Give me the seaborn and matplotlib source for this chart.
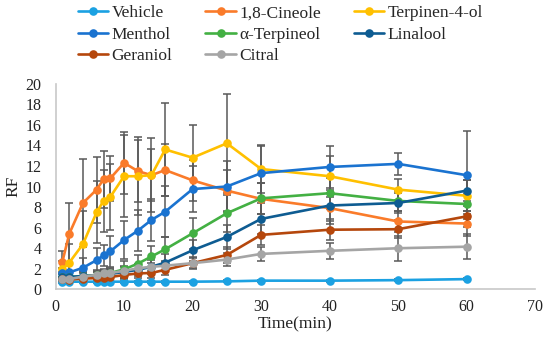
import numpy as np
import pandas as pd
import seaborn as sns
import matplotlib
matplotlib.use("Agg")
import matplotlib.pyplot as plt

time = [1, 2, 4, 6, 7, 8, 10, 12, 14, 16, 20, 25, 30, 40, 50, 60]

series_names = ["Vehicle", "1,8-Cineole", "Terpinen-4-ol", "Menthol",
                "\u03b1-Terpineol", "Linalool", "Geraniol", "Citral"]

vehicle = [0.75, 0.75, 0.75, 0.75, 0.75, 0.75, 0.75, 0.75, 0.75, 0.75, 0.75, 0.78, 0.85, 0.85, 0.9, 1.0]
cineole = [2.7, 5.4, 8.4, 9.7, 10.7, 10.8, 12.3, 11.5, 11.1, 11.6, 10.6, 9.6, 8.8, 7.9, 6.6, 6.4]
terpinen = [1.95, 2.6, 4.4, 7.5, 8.6, 9.0, 11.0, 11.0, 11.1, 13.6, 12.8, 14.2, 11.7, 11.0, 9.7, 9.1]
menthol = [1.55, 1.65, 2.1, 2.85, 3.3, 3.7, 4.8, 5.7, 6.75, 7.55, 9.75, 10.0, 11.3, 11.9, 12.2, 11.1]
terpineol = [1.2, 1.2, 1.3, 1.4, 1.5, 1.6, 1.95, 2.5, 3.2, 3.9, 5.45, 7.4, 8.85, 9.35, 8.6, 8.3]
linalool = [1.2, 1.2, 1.3, 1.35, 1.4, 1.5, 1.7, 1.9, 2.2, 2.6, 3.8, 5.1, 6.85, 8.15, 8.4, 9.6]
geraniol = [1.0, 0.95, 1.05, 1.1, 1.15, 1.2, 1.4, 1.55, 1.6, 1.9, 2.55, 3.35, 5.3, 5.8, 5.85, 7.1]
citral = [1.0, 1.0, 1.25, 1.4, 1.55, 1.6, 1.8, 2.05, 2.2, 2.3, 2.55, 2.9, 3.45, 3.75, 4.0, 4.15]

vehicle_err = [0.1] * 16
cineole_err = [1.0, 3.0, 4.3, 3.2, 2.8, 2.2, 3.0, 3.0, 2.5, 2.5, 2.0, 2.0, 1.5, 1.5, 1.0, 1.2]
terpinen_err = [0.8, 1.8, 3.2, 3.0, 3.0, 3.2, 4.0, 3.8, 3.6, 4.5, 3.2, 4.8, 2.3, 2.0, 1.0, 1.5]
menthol_err = [0.5, 0.8, 1.0, 1.2, 1.0, 1.5, 1.8, 2.0, 2.0, 2.5, 2.2, 2.5, 2.6, 2.0, 1.1, 4.3]
terpineol_err = [0.3, 0.3, 0.5, 0.5, 0.5, 0.5, 0.8, 0.8, 1.0, 1.2, 1.5, 1.8, 1.5, 1.5, 1.0, 1.0]
linalool_err = [0.3, 0.3, 0.4, 0.4, 0.4, 0.5, 0.6, 0.6, 0.7, 0.8, 1.0, 1.2, 1.5, 1.5, 1.0, 1.0]
geraniol_err = [0.2, 0.2, 0.3, 0.3, 0.3, 0.3, 0.4, 0.4, 0.5, 0.5, 0.6, 0.8, 1.0, 1.0, 0.9, 1.0]
citral_err = [0.2, 0.2, 0.3, 0.3, 0.3, 0.3, 0.4, 0.4, 0.4, 0.5, 0.5, 0.6, 0.7, 0.8, 1.2, 1.2]

colors = ["#1BA1E2", "#FA7B2A", "#FFC000", "#1A73D0",
          "#43B043", "#0E5C92", "#B5470C", "#A5A5A5"]

values = [vehicle, cineole, terpinen, menthol, terpineol, linalool, geraniol, citral]
errors = [vehicle_err, cineole_err, terpinen_err, menthol_err,
          terpineol_err, linalool_err, geraniol_err, citral_err]

sns.set_theme(style="white")
plt.rcParams['font.family'] = ['Liberation Serif', 'DejaVu Serif']

fig = plt.figure(figsize=(5.5, 3.47), dpi=100)
ax = fig.add_axes([0.101, 0.166, 0.872, 0.593])

frames = []
for name, v, e in zip(series_names, values, errors):
    frames.append(pd.DataFrame({"Time": time, "RF": v, "err": e, "Series": name}))
df = pd.concat(frames, ignore_index=True)

for name, col in zip(series_names, colors):
    sub = df[df["Series"] == name]
    ax.errorbar(sub["Time"], sub["RF"], yerr=sub["err"], fmt="none",
                ecolor="#595959", elinewidth=1.1, capsize=2.8, capthick=1.1, zorder=1)

for i, (name, col) in enumerate(zip(series_names, colors)):
    sub = df[df["Series"] == name]
    sns.lineplot(data=sub, x="Time", y="RF", ax=ax, color=col, marker="o",
                 markersize=6.2, markeredgewidth=0, linewidth=1.9, sort=False,
                 label=name, zorder=3 + i)

ax.set_xlim(0, 70)
ax.set_ylim(0, 20)
ax.set_xticks(range(0, 71, 10))
ax.set_yticks(range(0, 21, 2))
ax.set_xlabel("Time(min)", fontsize=12.5, color="#222222", labelpad=1)
ax.set_ylabel("RF", fontsize=12.5, color="#222222", labelpad=3)
ax.tick_params(axis="both", labelsize=11.5, colors="#222222", length=0, pad=7)
ax.tick_params(axis="y", length=3, color="#BFBFBF", direction="out", width=1)

for s in ["top", "right"]:
    ax.spines[s].set_visible(False)
for s in ["left", "bottom"]:
    ax.spines[s].set_color("#C8C8C8")
    ax.spines[s].set_linewidth(1.2)

handles, labels = ax.get_legend_handles_labels()
ax.get_legend().remove()
order = [0, 3, 6, 1, 4, 7, 2, 5]
fig.legend([handles[k] for k in order], [labels[k] for k in order],
           loc="upper center", bbox_to_anchor=(0.51, 1.03), ncol=3,
           frameon=False, fontsize=12.5, handlelength=1.75, handletextpad=0.2,
           columnspacing=1.9, labelspacing=0.3)

fig.savefig("out.png", dpi=100)
